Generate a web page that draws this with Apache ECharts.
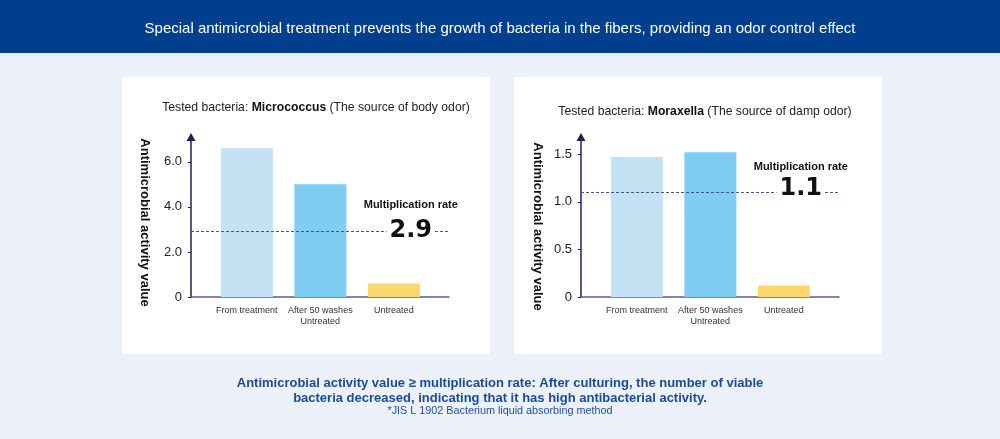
<!DOCTYPE html>
<html><head><meta charset="utf-8">
<script src="https://cdn.jsdelivr.net/npm/echarts@6/dist/echarts.min.js"></script>
<style>html,body{margin:0;padding:0;background:#ecf1f9}#c{width:1000px;height:439px}</style>
</head><body><div id="c"></div>
<script>
// ---- data ----
const categories = ['From treatment', 'After 50 washes\nUntreated', 'Untreated'];
const micrococcusValues = [6.6, 5.0, 0.6];
const moraxellaValues = [1.47, 1.52, 0.12];
const micrococcusRate = 2.9;
const moraxellaRate = 1.1;
const micrococcusTicks = [0, 2, 4, 6];
const micrococcusTickLabels = ['0', '2.0', '4.0', '6.0'];
const moraxellaTicks = [0, 0.5, 1, 1.5];
const moraxellaTickLabels = ['0', '0.5', '1.0', '1.5'];
const barColors = ['#c4e2f4', '#7fcdf2', '#fcd76e'];

// ---- layout / style ----
const FONT = 'Liberation Sans, Arial, sans-serif';
const X_MIN = -0.76, X_MAX = 2.75;
const LABEL_X = 2.23, GAP = 0.33;

function xAxisCfg(gi) {
  return {
    type: 'value', gridIndex: gi, min: X_MIN, max: X_MAX,
    splitLine: { show: false },
    axisTick: { show: false },
    axisLine: { show: true, onZero: false, lineStyle: { color: '#5a5e8c', width: 1.5 } },
    axisLabel: {
      customValues: [0, 1, 2],
      formatter: v => categories[Math.round(v)],
      fontSize: 9, color: '#333', lineHeight: 11, margin: 8, fontFamily: FONT
    }
  };
}
function yAxisCfg(gi, max, ticks, labels, nameGap, namePad) {
  return {
    type: 'value', gridIndex: gi, min: 0, max: max,
    splitLine: { show: false },
    axisLine: { show: true, onZero: false, symbol: ['none', 'triangle'], symbolSize: [9, 8],
      lineStyle: { color: '#1c1f5c', width: 1.5 } },
    axisTick: { show: true, customValues: ticks, length: 3, lineStyle: { color: '#1c1f5c' } },
    axisLabel: { customValues: ticks, formatter: v => labels[ticks.indexOf(v)],
      fontSize: 13, color: '#222', margin: 9, fontFamily: FONT },
    name: 'Antimicrobial activity value', nameLocation: 'middle', nameRotate: -90, nameGap: nameGap,
    nameTextStyle: { fontSize: 13, fontWeight: 'bold', color: '#111', fontFamily: FONT, padding: [0, 0, 0, namePad] }
  };
}
function barSeries(gi, values, rate, rateOffset, multOffset) {
  return {
    type: 'bar', xAxisIndex: gi, yAxisIndex: gi, barWidth: 52, silent: true,
    data: values.map((v, i) => ({ value: [i, v], itemStyle: { color: barColors[i] } })),
    markLine: {
      silent: true, symbol: 'none', label: { show: false },
      lineStyle: { type: [3, 2], color: '#4650a0', width: 1 },
      data: [
        [{ coord: [X_MIN, rate] }, { coord: [LABEL_X - GAP, rate] }],
        [{ coord: [LABEL_X + GAP, rate] }, { coord: [X_MAX, rate] }]
      ]
    },
    markPoint: {
      silent: true, symbol: 'circle', symbolSize: 1, itemStyle: { color: 'rgba(0,0,0,0)' },
      data: [
        { coord: [LABEL_X, rate], label: { show: true, position: 'inside', offset: [0, rateOffset],
          formatter: rate.toFixed(1), fontSize: 24, fontWeight: 'bold', color: '#111',
          fontFamily: 'DejaVu Sans' } },
        { coord: [LABEL_X, rate], label: { show: true, position: 'inside', offset: [0, multOffset],
          formatter: 'Multiplication rate', fontSize: 11, fontWeight: 'bold', color: '#111',
          fontFamily: FONT } }
      ]
    }
  };
}
function richTitle(x, y, name, rest) {
  return {
    type: 'text', x: x, y: y,
    style: {
      text: '{n|Tested bacteria: }{b|' + name + '}{n| ' + rest + '}',
      align: 'center', verticalAlign: 'middle',
      rich: {
        n: { fontSize: 12.2, fontFamily: FONT, fill: '#222', color: '#222' },
        b: { fontSize: 12.2, fontFamily: FONT, fontWeight: 'bold', fill: '#111', color: '#111' }
      }
    }
  };
}
function text(x, y, str, size, weight, color) {
  return { type: 'text', x: x, y: y, style: { text: str, align: 'center', verticalAlign: 'middle',
    font: weight + ' ' + size + 'px ' + FONT, fill: color } };
}

const chart = echarts.init(document.getElementById('c'), null, { renderer: 'canvas' });
chart.setOption({
  backgroundColor: '#ecf1f9',
  animation: false,
  graphic: [
    { type: 'rect', z: -10, shape: { x: 0, y: 0, width: 1000, height: 53 }, style: { fill: '#003f8e' } },
    { type: 'rect', z: -10, shape: { x: 122, y: 77, width: 368, height: 277 }, style: { fill: '#ffffff' } },
    { type: 'rect', z: -10, shape: { x: 514, y: 77, width: 368, height: 277 }, style: { fill: '#ffffff' } },
    text(500, 29, 'Special antimicrobial treatment prevents the growth of bacteria in the fibers, providing an odor control effect', 15, 'normal', '#ffffff'),
    richTitle(316, 108, 'Micrococcus', '(The source of body odor)'),
    richTitle(705, 112, 'Moraxella', '(The source of damp odor)'),
    text(500, 383, 'Antimicrobial activity value \u2265 multiplication rate: After culturing, the number of viable', 13, 'bold', '#1a4a9a'),
    text(500, 398, 'bacteria decreased, indicating that it has high antibacterial activity.', 13, 'bold', '#1a4a9a'),
    text(500, 411, '*JIS L 1902 Bacterium liquid absorbing method', 10.8, 'normal', '#234e9e')
  ],
  grid: [
    { left: 191, width: 258, top: 137, height: 160 },
    { left: 581, width: 258, top: 137, height: 160 }
  ],
  xAxis: [xAxisCfg(0), xAxisCfg(1)],
  yAxis: [
    yAxisCfg(0, 7.1, micrococcusTicks, micrococcusTickLabels, 40, 11),
    yAxisCfg(1, 1.68, moraxellaTicks, moraxellaTickLabels, 37, 19)
  ],
  series: [
    barSeries(0, micrococcusValues, micrococcusRate, -1, -27),
    barSeries(1, moraxellaValues, moraxellaRate, -3, -25)
  ]
});
</script></body></html>
